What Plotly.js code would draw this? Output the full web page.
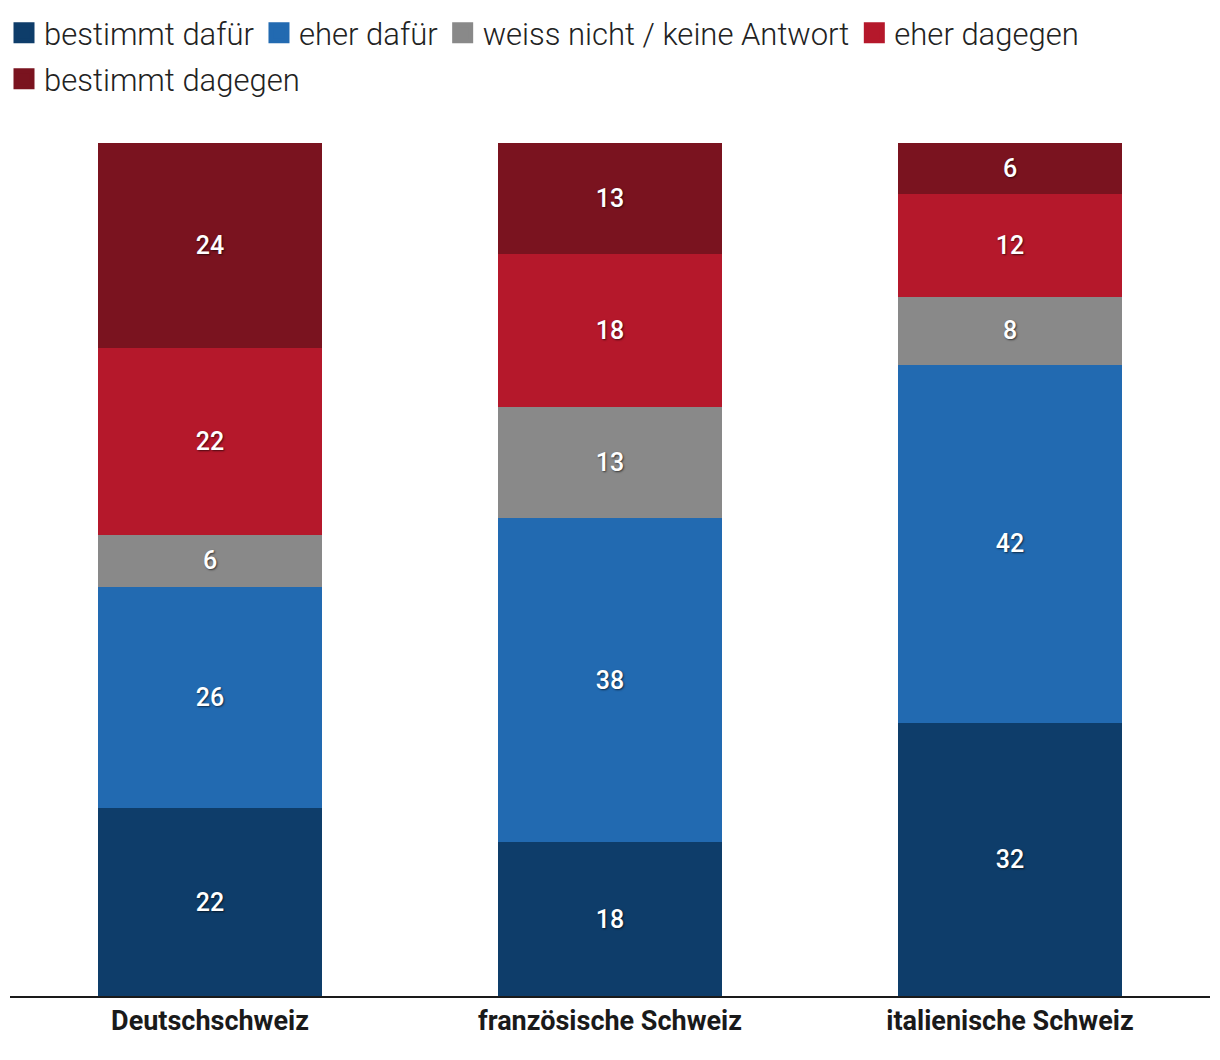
<!DOCTYPE html>
<html>
<head>
<meta charset="utf-8">
<script src="https://cdn.plot.ly/plotly-3.0.1.min.js"></script>
<style>html,body{margin:0;padding:0;background:#fff;}#chart{width:1220px;height:1060px;}</style>
</head>
<body>
<div id="chart"></div>
<script>
const categories = ["Deutschschweiz", "französische Schweiz", "italienische Schweiz"];
const seriesNames = ["bestimmt dafür", "eher dafür", "weiss nicht / keine Antwort", "eher dagegen", "bestimmt dagegen"];
const bestimmtDafuer = [22, 18, 32];
const eherDafuer = [26, 38, 42];
const weissNicht = [6, 13, 8];
const eherDagegen = [22, 18, 12];
const bestimmtDagegen = [24, 13, 6];
const colors = ["#0e3d6a", "#226ab1", "#898989", "#b5182b", "#7a131f"];
const legendRow = ["legend", "legend", "legend", "legend", "legend2"];

const seriesValues = [bestimmtDafuer, eherDafuer, weissNicht, eherDagegen, bestimmtDagegen];
const FONT = "Roboto, sans-serif";

const barTraces = seriesValues.map((vals, i) => ({
  type: "bar",
  name: seriesNames[i],
  x: categories,
  y: vals,
  text: vals.map(String),
  textposition: "inside",
  insidetextanchor: "middle",
  textangle: 0,
  constraintext: "none",
  textfont: {family: FONT, size: 25, color: "#ffffff", weight: 500, shadow: "1px 1px 2px rgba(0,0,0,0.6)"},
  marker: {color: colors[i], line: {width: 0}},
  showlegend: false,
  hoverinfo: "skip"
}));

// legend-only entries (no data points)
const legendTraces = seriesNames.map((name, i) => ({
  type: "scatter",
  mode: "markers",
  name: name,
  x: [null],
  y: [null],
  marker: {symbol: "square", size: 16, color: colors[i], line: {color: colors[i], width: 5}},
  legend: legendRow[i],
  showlegend: true,
  hoverinfo: "skip"
}));

const legendFont = {family: FONT, size: 31, color: "#222222", weight: 300};

const layout = {
  width: 1220,
  height: 1060,
  margin: {l: 10, r: 10, t: 143, b: 64},
  paper_bgcolor: "#ffffff",
  plot_bgcolor: "#ffffff",
  barmode: "stack",
  bargap: 0.44,
  showlegend: true,
  legend: {
    orientation: "h",
    xref: "container", yref: "container",
    x: 4 / 1220, y: 1 - 6 / 1060, xanchor: "left", yanchor: "top",
    font: legendFont,
    traceorder: "normal",
    itemsizing: "trace",
    bgcolor: "rgba(0,0,0,0)"
  },
  legend2: {
    orientation: "h",
    xref: "container", yref: "container",
    x: 4 / 1220, y: 1 - 52 / 1060, xanchor: "left", yanchor: "top",
    font: legendFont,
    traceorder: "normal",
    itemsizing: "trace",
    bgcolor: "rgba(0,0,0,0)"
  },
  xaxis: {
    type: "category",
    showgrid: false,
    zeroline: false,
    showline: true,
    linecolor: "#1a1a1a",
    linewidth: 2,
    ticks: "",
    tickfont: {family: FONT, size: 27, color: "#1a1a1a", weight: 700},
    fixedrange: true
  },
  yaxis: {
    range: [0, 100],
    visible: false,
    showgrid: false,
    zeroline: false,
    fixedrange: true
  },
  hovermode: false
};

Plotly.newPlot("chart", barTraces.concat(legendTraces), layout, {displayModeBar: false, staticPlot: true});
</script>
</body>
</html>
